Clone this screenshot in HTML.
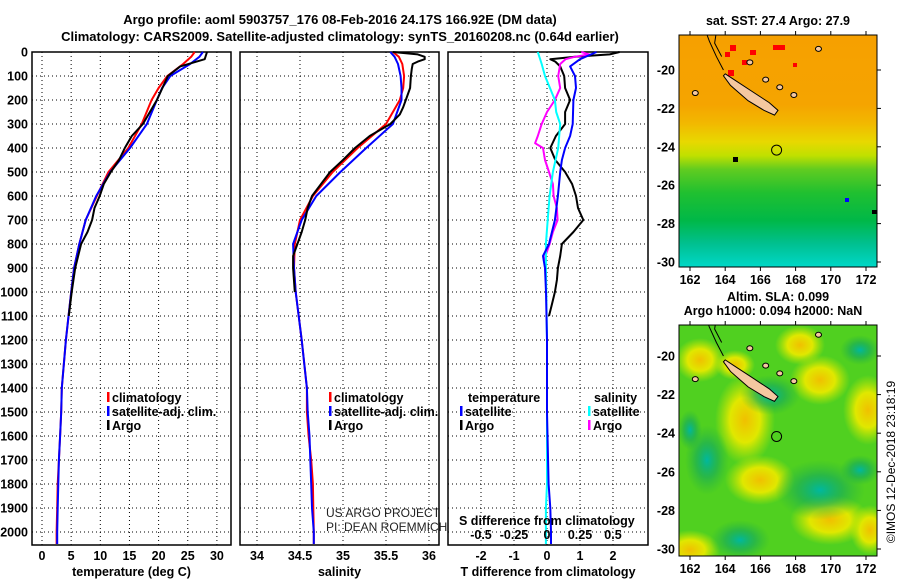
<!DOCTYPE html>
<html><head><meta charset="utf-8">
<style>
body{margin:0;background:#fff;width:900px;height:580px;overflow:hidden}
svg{display:block;font-family:"Liberation Sans",sans-serif}
.b{font-weight:bold;font-size:13px}
.t{font-weight:bold;font-size:12.5px}
</style></head><body>
<svg id="fig" width="900" height="580">
<defs>
<linearGradient id="sstg" x1="0" y1="0" x2="0" y2="1">
<stop offset="0" stop-color="#f6a000"/><stop offset="0.3" stop-color="#f5a400"/>
<stop offset="0.38" stop-color="#f2b800"/><stop offset="0.46" stop-color="#e8d800"/>
<stop offset="0.52" stop-color="#c0e000"/><stop offset="0.58" stop-color="#60cc20"/>
<stop offset="0.68" stop-color="#20c030"/><stop offset="0.8" stop-color="#00b848"/>
<stop offset="0.9" stop-color="#00c090"/><stop offset="1" stop-color="#00d8c8"/></linearGradient>
<radialGradient id="yb"><stop offset="0" stop-color="#f0c000"/><stop offset="0.5" stop-color="#e0e800"/><stop offset="1" stop-color="#c0e800" stop-opacity="0"/></radialGradient>
<radialGradient id="gb"><stop offset="0" stop-color="#00b8a0"/><stop offset="0.5" stop-color="#10a860" stop-opacity="0.6"/><stop offset="1" stop-color="#20b040" stop-opacity="0"/></radialGradient>
<clipPath id="c1"><rect x="679" y="35" width="198" height="232"/></clipPath>
<clipPath id="c2"><rect x="679" y="325" width="198" height="231"/></clipPath>
</defs>
<text class="b" x="340" y="24" text-anchor="middle">Argo profile: aoml 5903757_176 08-Feb-2016 24.17S 166.92E (DM data)</text>
<text class="b" x="340" y="41" text-anchor="middle">Climatology: CARS2009. Satellite-adjusted climatology: synTS_20160208.nc (0.64d earlier)</text>
<g id="g"></g>
</svg>
<script>
// depth grid for profiles
const depths=[0,20,50,100,150,200,300,400,500,600,700,800,900,1000,1200,1400,1500,1600,1700,1800,1900,2000,2050];
const tempClim=[26.2,25.6,24.2,21.5,20.0,18.8,17.1,14.8,11.4,9.4,7.5,6.4,5.5,5.0,4.1,3.4,3.3,3.1,2.9,2.7,2.6,2.5,2.5];
const tempSat=[27.6,27.0,25.4,22.0,20.6,19.7,18.0,15.1,11.7,9.3,7.5,6.4,5.5,5.0,4.1,3.4,3.3,3.1,2.9,2.8,2.7,2.6,2.6];
const tempArgoDepth=[0,30,60,100,200,300,350,400,450,500,550,600,650,700,750,800,900,1000,1100];
const tempArgo=[28.3,27.9,23.7,21.6,19.7,17.3,15.4,14.2,13.2,11.8,10.6,9.9,9.0,8.6,7.8,6.7,5.7,5.1,4.6];
const salClim=[35.58,35.65,35.69,35.71,35.70,35.66,35.50,35.17,34.88,34.65,34.50,34.44,34.43,34.45,34.52,34.58,34.58,34.60,34.63,34.65,34.655,34.66,34.66];
const salSat=[35.55,35.60,35.64,35.67,35.68,35.68,35.58,35.27,34.97,34.69,34.52,34.42,34.43,34.45,34.52,34.58,34.59,34.61,34.62,34.63,34.64,34.66,34.66];
const salArgoDepth=[0,10,20,30,40,50,70,100,150,200,230,260,300,350,400,450,500,600,650,700,750,800,850,900,1000];
const salArgo=[35.58,35.87,35.95,35.95,35.87,35.81,35.80,35.79,35.78,35.73,35.70,35.66,35.55,35.31,35.14,35.0,34.85,34.64,34.59,34.56,34.52,34.47,34.42,34.42,34.44];
const dTDepth=[0,30,60,100,150,200,300,350,400,450,500,600,700,800,850,900,1000,1200,1500,1800,1900,2000,2050];
const dTSat=[1.5,1.0,0.7,0.85,0.88,0.8,0.78,0.7,0.55,0.45,0.4,0.33,0.24,0.06,-0.12,-0.06,-0.03,0,0,0.05,0.1,0.12,0.12];
const dTArgoDepth=[0,10,20,30,40,60,100,150,200,250,300,350,400,450,500,550,600,650,700,750,800,850,900,950,1000,1050,1100];
const dTArgo=[2.2,1.9,0.85,0.1,0.25,0.4,0.52,0.55,0.7,0.55,0.55,0.27,0.1,0.25,0.55,0.76,0.88,0.94,1.1,0.8,0.45,0.4,0.33,0.3,0.24,0.15,0.06];
const dSDepth=[0,50,100,200,250,300,400,500,600,700,800,900,1200,1500,1800,1900,2000,2050];
const dSSat=[-0.07,-0.04,-0.015,0.06,0.07,0.1,0.085,0.045,0.02,0.005,-0.008,-0.008,0,0,0,-0.008,-0.008,-0.008];
const dSArgoDepth=[0,10,20,30,50,100,150,200,250,300,350,380,400,450,500,550,600,650,700,750,800,870];
const dSArgo=[0.26,0.32,0.21,0.14,0.10,0.085,0.1,0.06,0.0,-0.04,-0.07,-0.09,-0.03,-0.015,0.015,0.045,0.05,0.075,0.08,0.045,0.02,-0.025];
const depthTicks=[0,100,200,300,400,500,600,700,800,900,1000,1100,1200,1300,1400,1500,1600,1700,1800,1900,2000];
const tempTicks=[0,5,10,15,20,25,30];
const salTicks=[34,34.5,35,35.5,36];
const dTTicks=[-2,-1,0,1,2];
const dSTicks=[-0.5,-0.25,0,0.25,0.5];
const dSTickLabels=["-0.5","-0.25","0","0.25","0.5"];
const lonTicks=[162,164,166,168,170,172];
const latTicks=[-20,-22,-24,-26,-28,-30];

const NS="http://www.w3.org/2000/svg";
const G=document.getElementById('g');
function mk(tag,at,parent){const e=document.createElementNS(NS,tag);for(const k in at)e.setAttribute(k,at[k]);(parent||G).appendChild(e);return e;}
const yD=d=>52+d*0.24;
const xT=v=>42+v*5.83;
const xS=v=>257+(v-34)*86;
const xDT=v=>547+v*33;
const xDS=v=>547+v*132;
const panels=[{x0:32,x1:231,sc:xT,ticks:tempTicks,labs:tempTicks.map(String),title:"temperature (deg C)",n:"temperature"},
{x0:240,x1:439,sc:xS,ticks:salTicks,labs:salTicks.map(String),title:"salinity",n:"salinity"},
{x0:448,x1:648,sc:xDT,ticks:dTTicks,labs:dTTicks.map(String),title:"T difference from climatology",n:"difference"}];
const Y1=545;
panels.forEach((p,i)=>{
  const gp=mk('g',{});
  
  
  depthTicks.forEach(d=>{const l=mk('line',{x1:p.x0,x2:p.x1,y1:yD(d),y2:yD(d),stroke:'#000','stroke-width':1,'stroke-dasharray':'1,3'},gp);
    });
  p.ticks.forEach((v,k)=>{const x=p.sc(v);
    const l=mk('line',{x1:x,x2:x,y1:52,y2:Y1,stroke:'#000','stroke-width':1,'stroke-dasharray':'1,3'},gp);
    
    const t=mk('text',{x:x,y:560,'text-anchor':'middle','class':'t'},gp);t.textContent=p.labs[k];
    });
  const r=mk('rect',{x:p.x0,y:52,width:p.x1-p.x0,height:Y1-52,fill:'none',stroke:'#000','stroke-width':1.5},gp);
  
  const t=mk('text',{x:(p.x0+p.x1)/2,y:576,'text-anchor':'middle','class':'t'},gp);t.textContent=p.title;
  
});
depthTicks.forEach(d=>{const t=mk('text',{x:28,y:yD(d)+4.5,'text-anchor':'end','class':'t'});t.textContent=d;
  });
function line(ds,vs,sc,col,name){
  const pts=ds.map((d,i)=>sc(vs[i]).toFixed(1)+','+yD(d).toFixed(1)).join(' ');
  const l=mk('polyline',{points:pts,fill:'none',stroke:col,'stroke-width':2,'stroke-linejoin':'round'});
  }
line(depths,tempClim,xT,'#f00','temp-climatology-line');
line(depths,tempSat,xT,'#00f','temp-satellite-line');
line(tempArgoDepth,tempArgo,xT,'#000','temp-argo-line');
line(depths,salClim,xS,'#f00','sal-climatology-line');
line(depths,salSat,xS,'#00f','sal-satellite-line');
line(salArgoDepth,salArgo,xS,'#000','sal-argo-line');
line(dTArgoDepth,dTArgo,xDT,'#000','dT-argo-line');
line(dSArgoDepth,dSArgo,xDS,'#f0f','dS-argo-line');
line(dSDepth,dSSat,xDS,'#0ff','dS-satellite-line');
line(dTDepth,dTSat,xDT,'#00f','dT-satellite-line');
function leg(x,y,col,txt,name){
  if(col){const r=mk('rect',{x:x,y:y-10,width:2.5,height:10,fill:col});}
  const t=mk('text',{x:x+(col?5:0),y:y,'class':'t'});t.textContent=txt;
  }
leg(107,402,'#f00','climatology','legend-climatology');
leg(107,416,'#00f','satellite-adj. clim.','legend-satellite');
leg(107,430,'#000','Argo','legend-argo');
leg(329,402,'#f00','climatology','legend-climatology-2');
leg(329,416,'#00f','satellite-adj. clim.','legend-satellite-2');
leg(329,430,'#000','Argo','legend-argo-2');
leg(468,402,null,'temperature','legend-temperature-heading');
leg(460,416,'#00f','satellite','legend-t-satellite');
leg(460,430,'#000','Argo','legend-t-argo');
leg(594,402,null,'salinity','legend-salinity-heading');
leg(588,416,'#0ff','satellite','legend-s-satellite');
leg(588,430,'#f0f','Argo','legend-s-argo');
[['US ARGO PROJECT',517],['PI: DEAN ROEMMICH',531]].forEach(a=>{const t=mk('text',{x:326,y:a[1],'font-size':'12px',fill:'#222'});t.textContent=a[0];
  });
{const t=mk('text',{x:459,y:525,'class':'t'});t.textContent='S difference from climatology';}
dSTicks.forEach((v,k)=>{const t=mk('text',{x:xDS(v),y:539,'text-anchor':'middle','class':'t'});t.textContent=dSTickLabels[k];
  });

// maps
const maps=[{y0:35,y1:267,latY:v=>70+(-20-v)*19.2,clip:'c1',n:'sst-map'},{y0:325,y1:556,latY:v=>356+(-20-v)*19.3,clip:'c2',n:'sla-map'}];
const lonX=v=>690+(v-162)*17.6;
maps.forEach((m,i)=>{
  const gm=mk('g',{'clip-path':'url(#'+m.clip+')'});
  
  if(i==0){mk('rect',{x:679,y:m.y0,width:198,height:m.y1-m.y0,fill:'url(#sstg)'},gm);
    [[730,45,6,6],[728,70,6,6],[750,50,6,5],[773,45,12,5],[793,63,4,4],[742,60,5,5],[725,52,5,5]].forEach(r=>mk('rect',{x:r[0],y:r[1],width:r[2],height:r[3],fill:'#f00'},gm));
    mk('rect',{x:733,y:157,width:5,height:5,fill:'#000'},gm);mk('rect',{x:845,y:198,width:4,height:4,fill:'#00f'},gm);mk('rect',{x:872,y:210,width:5,height:4,fill:'#000'},gm);
  } else {
    mk('rect',{x:679,y:m.y0,width:198,height:m.y1-m.y0,fill:'#50d020'},gm);
    [[700,360,25,22],[745,420,30,45],[800,345,25,20],[820,380,30,25],[868,410,25,35],[830,520,40,25],[690,550,30,20],[870,530,20,25],[760,480,35,25],[735,365,20,15]].forEach(b=>mk('ellipse',{cx:b[0],cy:b[1],rx:b[2],ry:b[3],fill:'url(#yb)'},gm));
    [[707,460,22,35],[770,395,30,20],[820,490,45,30],[860,470,20,15],[740,540,30,20],[860,350,20,15],[690,430,12,20]].forEach(b=>mk('ellipse',{cx:b[0],cy:b[1],rx:b[2],ry:b[3],fill:'url(#gb)'},gm));
  }
  const Y=m.latY;
  const isl=mk('polygon',{points:[[164,-20.2],[164.5,-20.5],[165.5,-21.1],[166.5,-21.7],[167,-22.1],[166.8,-22.35],[166.2,-22.1],[165.3,-21.6],[164.3,-20.8],[163.9,-20.3]].map(p=>lonX(p[0])+','+Y(p[1])).join(' '),fill:'#f5c8a0',stroke:'#000','stroke-width':1},gm);
  
  [[165.4,-19.6],[166.3,-20.5],[167.1,-20.9],[167.9,-21.3],[169.3,-18.9],[162.3,-21.2]].forEach(p=>mk('ellipse',{cx:lonX(p[0]),cy:Y(p[1]),rx:3,ry:2.5,fill:'#f5c8a0',stroke:'#000','stroke-width':1},gm));
  mk('polyline',{points:[[162.9,-18.0],[163.1,-18.5],[163.5,-19.3],[163.9,-20.0]].map(p=>lonX(p[0])+','+Y(p[1])).join(' '),fill:'none',stroke:'#000','stroke-width':1},gm);
  mk('polyline',{points:[[163.5,-18.0],[163.4,-18.6],[163.8,-19.3]].map(p=>lonX(p[0])+','+Y(p[1])).join(' '),fill:'none',stroke:'#000','stroke-width':1},gm);
  const c=mk('circle',{cx:lonX(166.92),cy:Y(-24.17),r:5,fill:'none',stroke:'#000','stroke-width':1},gm);
  
  const fr=mk('rect',{x:679,y:m.y0,width:198,height:m.y1-m.y0,fill:'none',stroke:'#000','stroke-width':1});
  
  latTicks.forEach(v=>{mk('line',{x1:877,x2:881,y1:Y(v),y2:Y(v),stroke:'#000'});
    const t=mk('text',{x:675,y:Y(v)+4.5,'text-anchor':'end','class':'t'});t.textContent=v;
    });
  lonTicks.forEach(v=>{mk('line',{x1:lonX(v),x2:lonX(v),y1:m.y1,y2:m.y1+4,stroke:'#000'});mk('line',{x1:lonX(v),x2:lonX(v),y1:m.y0,y2:m.y0-4,stroke:'#000'});
    const t=mk('text',{x:lonX(v),y:m.y1+17,'text-anchor':'middle','class':'t'});t.textContent=v;
    });
});
[['sat. SST: 27.4 Argo: 27.9',778,25],['Altim. SLA: 0.099',778,301],['Argo h1000: 0.094 h2000: NaN',773,315]].forEach(a=>{
  const t=mk('text',{x:a[1],y:a[2],'text-anchor':'middle','class':'t'});t.textContent=a[0];
  });
{const t=mk('text',{x:0,y:0,'text-anchor':'middle','font-size':'12px',transform:'translate(895,462) rotate(-90)'});t.textContent='©IMOS 12-Dec-2018 23:18:19';
 }
</script>
</body></html>
